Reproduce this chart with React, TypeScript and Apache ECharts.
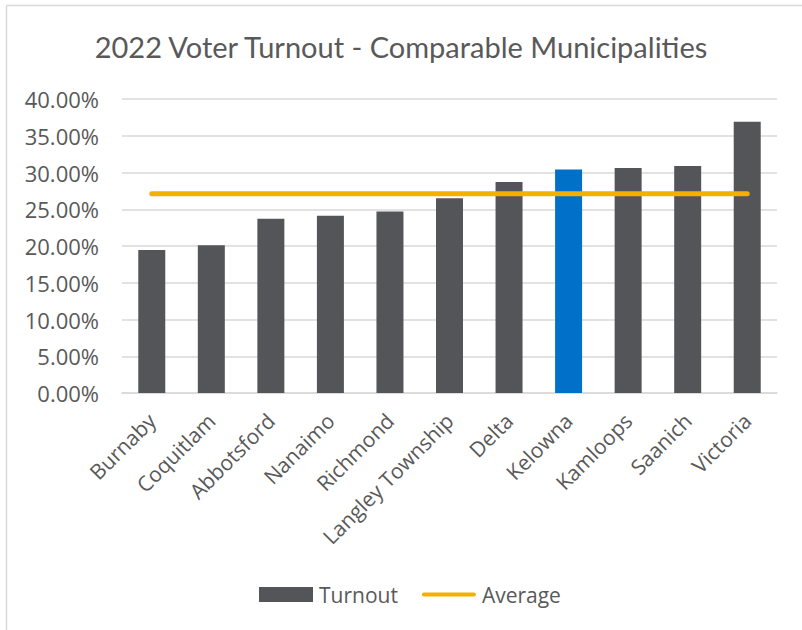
import React, { useEffect, useRef } from "react";
import * as echarts from "echarts";

const categories = [
  "Burnaby",
  "Coquitlam",
  "Abbotsford",
  "Nanaimo",
  "Richmond",
  "Langley Township",
  "Delta",
  "Kelowna",
  "Kamloops",
  "Saanich",
  "Victoria",
];
const turnout = [0.1946, 0.201, 0.237, 0.241, 0.247, 0.265, 0.287, 0.304, 0.306, 0.309, 0.369];
const average = [0.271, 0.271, 0.271, 0.271, 0.271, 0.271, 0.271, 0.271, 0.271, 0.271, 0.271];
const highlight = "Kelowna";

const TEXT = "#595959";
const FONT = "'Open Sans', sans-serif";
const TITLE_FONT = "Lato, 'Open Sans', sans-serif";

export default function App() {
  const ref = useRef<HTMLDivElement>(null);
  useEffect(() => {
    if (!ref.current) return;
    const chart = echarts.init(ref.current, null, { renderer: "svg" });
    chart.setOption({
      animation: false,
      backgroundColor: "#ffffff",
      textStyle: { fontFamily: FONT },
      title: {
        text: "2022 Voter Turnout - Comparable Municipalities",
        left: "center",
        top: 27,
        textStyle: { color: TEXT, fontSize: 29, fontWeight: "normal", fontFamily: TITLE_FONT },
      },
      graphic: [
        { type: "line", shape: { x1: 6.5, y1: 5.5, x2: 802, y2: 5.5 }, style: { stroke: "#d9d9d9", lineWidth: 1.5 } },
        { type: "line", shape: { x1: 6.5, y1: 5.5, x2: 6.5, y2: 630 }, style: { stroke: "#d9d9d9", lineWidth: 1.5 } },
      ],
      grid: { left: 122, right: 25, top: 99, bottom: 237, containLabel: false },
      legend: {
        bottom: 20,
        left: 254,
        itemGap: 24,
        textStyle: { color: TEXT, fontSize: 21, fontFamily: FONT, padding: [0, 0, 0, 1] },
        data: [
          { name: "Turnout", icon: "rect", itemStyle: { color: "#545559" } },
          { name: "Average", icon: "path://M2,0 H55 A2,2 0 0 1 55,4 H2 A2,2 0 0 1 2,0 Z", itemStyle: { color: "#F2B000" } },
        ],
        itemWidth: 54,
        itemHeight: 15,
      },
      xAxis: {
        type: "category",
        data: categories,
        axisLine: { lineStyle: { color: "#d9d9d9", width: 1.5 } },
        axisTick: { show: false },
        axisLabel: { color: TEXT, fontSize: 21, rotate: 45, interval: 0, margin: 24, fontFamily: FONT },
      },
      yAxis: {
        type: "value",
        min: 0,
        max: 0.4,
        interval: 0.05,
        axisLine: { show: false },
        axisTick: { show: false },
        splitLine: { lineStyle: { color: "#d9d9d9", width: 1.5 } },
        axisLabel: {
          color: TEXT,
          fontSize: 22,
          margin: 23,
          fontFamily: FONT,
          formatter: (v: number) => (v * 100).toFixed(2) + "%",
        },
      },
      series: [
        {
          name: "Turnout",
          type: "bar",
          barWidth: 27,
          data: turnout.map((v, i) => ({
            value: v,
            itemStyle: { color: categories[i] === highlight ? "#0070C8" : "#545559" },
          })),
          itemStyle: { color: "#545559" },
        },
        {
          name: "Average",
          type: "line",
          data: average,
          symbol: "none",
          lineStyle: { color: "#F2B000", width: 5, cap: "round" },
          itemStyle: { color: "#F2B000" },
        },
      ],
    });
    return () => chart.dispose();
  }, []);
  return (
    <div
      ref={ref}
      style={{ position: "absolute", left: 0, top: 0, width: 802, height: 630 }}
    />
  );
}
